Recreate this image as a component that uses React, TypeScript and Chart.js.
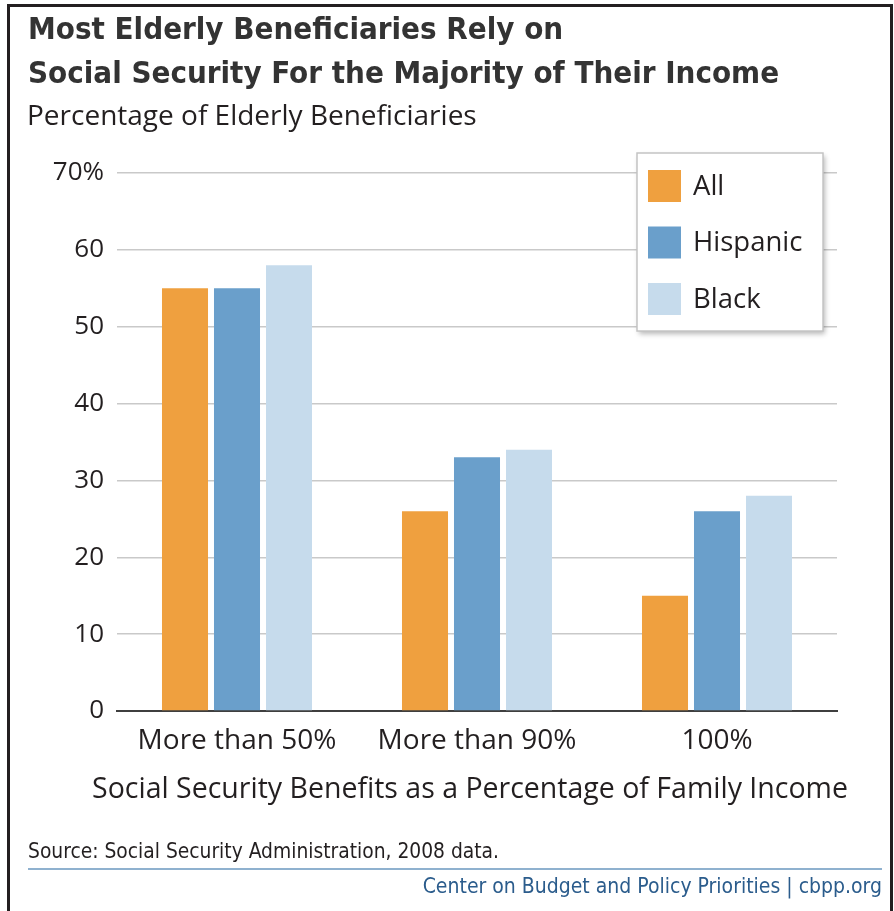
import React, { useEffect, useRef } from "react";
import { Chart, registerables } from "chart.js";

Chart.register(...registerables);

const categories = ["More than 50%", "More than 90%", "100%"];
const seriesNames = ["All", "Hispanic", "Black"];
const allValues = [55, 26, 15];
const hispanicValues = [55, 33, 26];
const blackValues = [58, 34, 28];
const seriesColors = ["#EFA03F", "#6A9FCB", "#C6DBEC"];
const yTickValues = [0, 10, 20, 30, 40, 50, 60, 70];
const xAxisTitle = "Social Security Benefits as a Percentage of Family Income";

const TEXT = "#231f20";
const NARROW = '"Liberation Sans Narrow", "DejaVu Sans Condensed", "Arial Narrow", sans-serif';

const legendPlugin = {
  id: "boxLegend",
  afterDraw(chart: any) {
    const ctx = chart.ctx;
    const x = 637, y = 153, w = 186, h = 178;
    ctx.save();
    ctx.shadowColor = "rgba(0,0,0,0.28)";
    ctx.shadowBlur = 5;
    ctx.shadowOffsetX = 2;
    ctx.shadowOffsetY = 3;
    ctx.fillStyle = "#ffffff";
    ctx.fillRect(x, y, w, h);
    ctx.restore();
    ctx.save();
    ctx.strokeStyle = "#c4c4c4";
    ctx.lineWidth = 1.5;
    ctx.strokeRect(x, y, w, h);
    ctx.font = '27.5px "Open Sans", sans-serif';
    ctx.textBaseline = "middle";
    chart.data.datasets.forEach((ds: any, i: number) => {
      const cy = 186 + i * 56.5;
      ctx.fillStyle = ds.backgroundColor;
      ctx.fillRect(648, cy - 16, 33, 32);
      ctx.fillStyle = TEXT;
      ctx.fillText(ds.label, 693, cy + 1);
    });
    ctx.restore();
  },
};

const xTitlePlugin = {
  id: "wideXTitle",
  afterDraw(chart: any) {
    const ctx = chart.ctx;
    const area = chart.chartArea;
    ctx.save();
    ctx.font = '28.5px "Open Sans", sans-serif';
    ctx.fillStyle = TEXT;
    ctx.textAlign = "center";
    ctx.textBaseline = "middle";
    ctx.fillText(xAxisTitle, (area.left + area.right) / 2 - 7, area.bottom + 79);
    ctx.restore();
  },
};

export default function App() {
  const canvasRef = useRef<HTMLCanvasElement | null>(null);

  useEffect(() => {
    if (!canvasRef.current) return;
    const values = [allValues, hispanicValues, blackValues];
    const chart = new Chart(canvasRef.current, {
      type: "bar",
      data: {
        labels: categories,
        datasets: seriesNames.map((name, i) => ({
          label: name,
          data: values[i],
          backgroundColor: seriesColors[i],
          borderWidth: 0,
          categoryPercentage: 0.65,
          barPercentage: 0.885,
        })),
      },
      options: {
        responsive: false,
        animation: false,
        devicePixelRatio: 1,
        layout: { padding: { top: 173, right: 57, left: 0, bottom: 104 } },
        plugins: {
          legend: { display: false },
          title: { display: false },
          tooltip: { enabled: false },
        },
        scales: {
          x: {
            grid: { display: false, drawTicks: false },
            border: { display: true, color: "#3f3f3f", width: 2 },
            ticks: {
              color: TEXT,
              font: { family: "Open Sans", size: 28 },
              padding: 13,
              maxRotation: 0,
              autoSkip: false,
            },
            title: { display: false },
            afterFit: (scale: any) => {
              scale.height = 96;
            },
          },
          y: {
            min: 0,
            max: 70,
            afterBuildTicks: (scale: any) => {
              scale.ticks = yTickValues.map((v) => ({ value: v }));
            },
            grid: {
              drawTicks: false,
              color: (c: any) => (c.tick && c.tick.value === 0 ? "rgba(0,0,0,0)" : "#c9c9c9"),
              lineWidth: 1.5,
            },
            border: { display: false },
            ticks: {
              color: TEXT,
              font: { family: "Open Sans", size: 26 },
              padding: 13,
              callback: (v: any) => (v === 70 ? "70%" : String(v)),
            },
            afterFit: (scale: any) => {
              scale.width = 117;
            },
          },
        },
      },
      plugins: [legendPlugin, xTitlePlugin],
    });
    return () => chart.destroy();
  }, []);

  return (
    <div style={{ position: "absolute", left: 0, top: 0, width: 894, height: 911, background: "#fff", overflow: "hidden" }}>
      <canvas ref={canvasRef} width={894} height={911} style={{ position: "absolute", left: 0, top: 0, display: "block" }} />
      <div style={{ position: "absolute", left: 7, top: 4, width: 880, height: 920, borderLeft: "3px solid #231f20", borderTop: "3px solid #231f20", borderRight: "3px solid #231f20", pointerEvents: "none" }} />
      <div style={{ position: "absolute", left: 28, top: 6, fontFamily: NARROW, fontWeight: 700, fontSize: 31, lineHeight: "44px", color: "#333", whiteSpace: "nowrap" }}>
        <div>Most Elderly Beneficiaries Rely on</div>
        <div>Social Security For the Majority of Their Income</div>
      </div>
      <div style={{ position: "absolute", left: 27, top: 99, fontFamily: '"Open Sans", sans-serif', fontSize: 28, lineHeight: "30px", color: TEXT, whiteSpace: "nowrap" }}>
        Percentage of Elderly Beneficiaries
      </div>
      <div style={{ position: "absolute", left: 28, top: 841, fontFamily: NARROW, fontSize: 20.8, lineHeight: "20px", color: TEXT, whiteSpace: "nowrap" }}>
        Source: Social Security Administration, 2008 data.
      </div>
      <div style={{ position: "absolute", left: 28, top: 868, width: 854, height: 2, background: "#8fb1cf" }} />
      <div style={{ position: "absolute", right: 12, top: 876, fontFamily: NARROW, fontSize: 21, lineHeight: "21px", color: "#2b5c8c", whiteSpace: "nowrap" }}>
        Center on Budget and Policy Priorities | cbpp.org
      </div>
    </div>
  );
}
